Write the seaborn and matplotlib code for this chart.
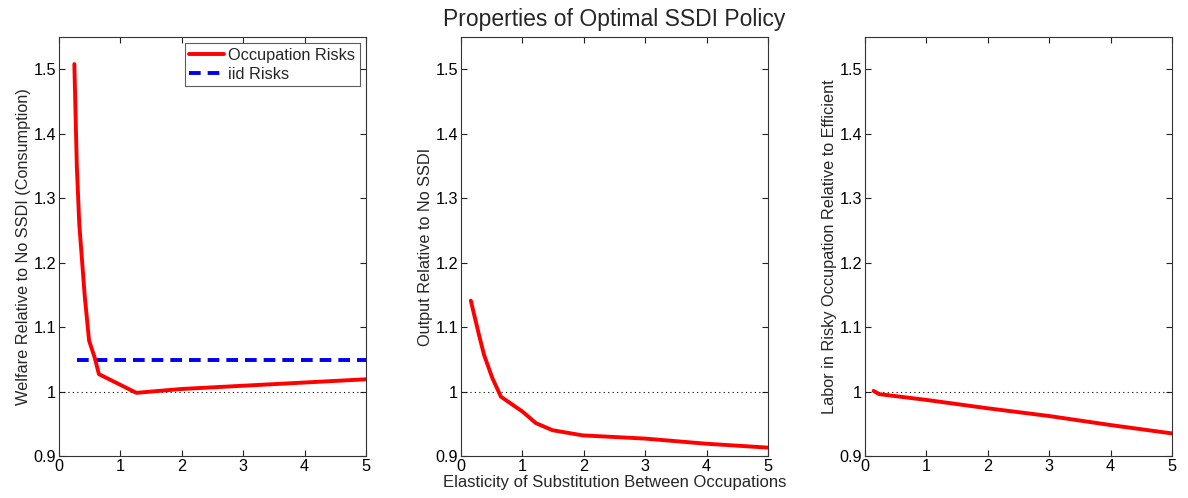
import matplotlib
matplotlib.use("Agg")
import matplotlib.pyplot as plt
import seaborn as sns

sns.set_theme(style="white")
plt.rcParams['font.family'] = ['Liberation Sans', 'DejaVu Sans']

# Elasticity grid and outcomes for each panel
welfare_x = [0.25, 0.29, 0.33, 0.42, 0.49, 0.58, 0.65, 1.26, 2.0, 3.0, 4.0, 5.0]
welfare_occ = [1.508, 1.35, 1.26, 1.147, 1.079, 1.053, 1.027, 0.998, 1.004, 1.009, 1.014, 1.019]
iid_x = [0.3, 5.0]
iid_welfare = [1.049, 1.049]

output_x = [0.16, 0.29, 0.375, 0.51, 0.65, 1.0, 1.22, 1.49, 1.98, 3.0, 4.0, 5.0]
output_occ = [1.141, 1.089, 1.057, 1.021, 0.992, 0.969, 0.951, 0.940, 0.932, 0.927, 0.919, 0.913]

labor_x = [0.14, 0.23, 1.0, 2.0, 3.0, 4.0, 5.0]
labor_occ = [1.001, 0.996, 0.987, 0.974, 0.962, 0.948, 0.935]

ylabels = ["Welfare Relative to No SSDI (Consumption)",
           "Output Relative to No SSDI",
           "Labor in Risky Occupation Relative to Efficient"]
yticks = [0.9, 1.0, 1.1, 1.2, 1.3, 1.4, 1.5]
ytick_labels = ["0.9", "1", "1.1", "1.2", "1.3", "1.4", "1.5"]
xticks = [0, 1, 2, 3, 4, 5]

fig = plt.figure(figsize=(11.88, 4.98), dpi=100)
lefts = [59 / 1188, 461 / 1188, 865 / 1188]
width = 307 / 1188
bottom = 42 / 498
height = 419 / 498
axes = [fig.add_axes([l, bottom, width, height]) for l in lefts]

series = [(welfare_x, welfare_occ), (output_x, output_occ), (labor_x, labor_occ)]
for ax, (xs, ys), lab in zip(axes, series, ylabels):
    ax.plot([0, 5], [1, 1], color="black", linestyle=(0, (1, 3)), linewidth=0.8, zorder=1)
    sns.lineplot(x=xs, y=ys, ax=ax, color="#ff0000", linewidth=2.8,
                 label="Occupation Risks" if ax is axes[0] else None, sort=False, zorder=3)
    ax.set_xlim(0, 5)
    ax.set_ylim(0.9, 1.55)
    ax.set_xticks(xticks)
    ax.set_xticklabels([str(t) for t in xticks])
    ax.set_yticks(yticks)
    ax.set_yticklabels(ytick_labels)
    ax.set_ylabel(lab, fontsize=11.7, labelpad=2)
    ax.tick_params(direction="in", length=4, width=0.8, colors="#222222", labelcolor="black",
                   labelsize=11.7, top=True, right=True, bottom=True, left=True, pad=2)
    for s in ax.spines.values():
        s.set_color("#333333")
        s.set_linewidth(0.8)
    ax.grid(False)

sns.lineplot(x=iid_x, y=iid_welfare, ax=axes[0], color="#0000ee", linewidth=2.8,
             linestyle=(0, (3, 1.8)), label="iid Risks", zorder=2)
leg = axes[0].legend(loc="upper right", fontsize=11.7, frameon=True, fancybox=False,
                     edgecolor="#333333", handlelength=2.2, handletextpad=0.25,
                     borderpad=0.25, labelspacing=0.25, borderaxespad=0.4)
leg.get_frame().set_linewidth(0.8)

axes[1].set_title("Properties of Optimal SSDI Policy", fontsize=16.5, pad=8)
axes[1].set_xlabel("Elasticity of Substitution Between Occupations", fontsize=12, labelpad=1)

fig.savefig("out.png", dpi=100)
